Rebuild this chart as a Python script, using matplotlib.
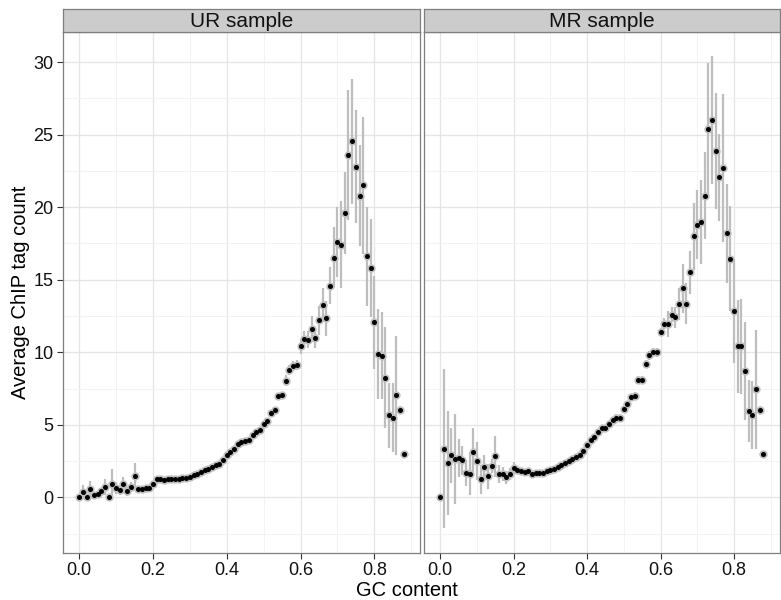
import numpy as np
import matplotlib
matplotlib.use("Agg")
import matplotlib.pyplot as plt
from matplotlib.ticker import MultipleLocator

plt.rcParams['font.family'] = ['Liberation Sans', 'DejaVu Sans']

# ---------------- data ----------------
gc_content = [round(0.01 * i, 2) for i in range(89)]

ur_mean = [0.00, 0.37, 0.02, 0.60, 0.18, 0.25, 0.41, 0.71, 0.00, 0.94,
           0.64, 0.48, 0.90, 0.41, 0.71, 1.45, 0.55, 0.60, 0.67, 0.67,
           0.90, 1.24, 1.24, 1.22, 1.29, 1.24, 1.26, 1.27, 1.31, 1.36,
           1.43, 1.52, 1.63, 1.75, 1.86, 1.98, 2.09, 2.20, 2.32, 2.55,
           2.90, 3.13, 3.36, 3.70, 3.82, 3.85, 3.98, 4.28, 4.50, 4.65,
           5.03, 5.26, 5.80, 6.00, 6.97, 7.03, 8.05, 8.80, 9.06, 9.15,
           10.40, 10.90, 10.87, 11.60, 11.00, 12.20, 13.26, 12.34, 14.60, 16.50,
           17.60, 17.40, 19.60, 23.60, 24.55, 22.80, 20.80, 21.50, 16.60, 15.80,
           12.07, 9.90, 9.75, 8.25, 5.65, 5.50, 7.03, 6.02, 3.01]

ur_err = [0.20, 0.45, 0.20, 0.50, 0.20, 0.20, 0.25, 0.55, 0.20, 1.00,
          0.40, 0.30, 0.50, 0.30, 0.35, 0.90, 0.15, 0.15, 0.15, 0.15,
          0.20, 0.12, 0.12, 0.12, 0.12, 0.12, 0.12, 0.12, 0.12, 0.12,
          0.12, 0.12, 0.12, 0.12, 0.12, 0.12, 0.12, 0.12, 0.12, 0.12,
          0.15, 0.15, 0.15, 0.15, 0.15, 0.15, 0.18, 0.18, 0.20, 0.20,
          0.20, 0.22, 0.25, 0.25, 0.25, 0.25, 0.35, 0.35, 0.35, 0.35,
          0.50, 0.55, 0.60, 0.90, 0.70, 1.00, 1.20, 1.20, 1.30, 2.10,
          2.40, 3.00, 2.80, 4.50, 4.30, 3.90, 3.50, 4.70, 3.40, 3.40,
          3.20, 3.10, 3.00, 3.50, 2.25, 2.35, 4.10, 0.30, 0.00]

mr_mean = [0.00, 3.36, 2.37, 2.90, 2.66, 2.73, 2.55, 1.70, 1.63, 3.13,
           2.50, 1.24, 2.09, 1.45, 2.16, 2.83, 1.61, 1.61, 1.40, 1.61,
           2.02, 1.90, 1.82, 1.75, 1.82, 1.63, 1.70, 1.70, 1.70, 1.79,
           1.88, 1.98, 2.09, 2.20, 2.37, 2.50, 2.66, 2.78, 2.94, 3.17,
           3.59, 3.95, 4.16, 4.50, 4.80, 4.80, 5.03, 5.33, 5.50, 5.50,
           6.10, 6.40, 6.90, 7.00, 8.07, 8.07, 9.20, 9.80, 10.00, 10.00,
           11.40, 11.97, 11.95, 12.60, 12.40, 13.35, 14.40, 13.35, 15.50, 18.00,
           18.80, 18.95, 20.80, 25.40, 26.00, 23.90, 22.05, 22.70, 18.20, 16.46,
           12.85, 10.40, 10.40, 8.70, 5.95, 5.66, 7.45, 6.00, 3.00]

mr_err = [0.00, 5.50, 3.60, 1.90, 3.10, 1.30, 1.00, 0.90, 1.50, 1.65,
          1.30, 1.00, 0.80, 0.85, 0.50, 1.40, 0.65, 0.50, 0.45, 0.40,
          0.40, 0.20, 0.15, 0.15, 0.15, 0.15, 0.15, 0.15, 0.15, 0.15,
          0.15, 0.15, 0.15, 0.15, 0.15, 0.15, 0.15, 0.15, 0.15, 0.15,
          0.15, 0.15, 0.18, 0.18, 0.20, 0.20, 0.20, 0.20, 0.22, 0.22,
          0.22, 0.25, 0.25, 0.25, 0.28, 0.28, 0.30, 0.30, 0.30, 0.30,
          0.30, 0.40, 0.90, 0.50, 0.70, 1.10, 1.70, 1.40, 1.50, 2.30,
          2.40, 2.90, 3.00, 4.50, 4.40, 4.00, 3.00, 5.10, 3.40, 3.60,
          3.60, 3.20, 3.30, 3.40, 2.15, 2.35, 4.10, 0.30, 0.00]

panel_titles = ["UR sample", "MR sample"]
x_ticks = [0.0, 0.2, 0.4, 0.6, 0.8]
y_ticks = [0, 5, 10, 15, 20, 25, 30]

# ---------------- figure ----------------
W, H = 781, 600
fig = plt.figure(figsize=(W / 100, H / 100), dpi=100)

panel_bottom = (H - 552.5) / H
panel_height = (552.5 - 32.3) / H
strip_bottom = (H - 32.3) / H
strip_height = 23.0 / H
lefts = [63 / W, 424 / W]
widths = [357 / W, 355.5 / W]

series = [(ur_mean, ur_err), (mr_mean, mr_err)]
border_col = "#7F7F7F"
bar_col = "#BEBEBE"

for i, (title, (mean, err)) in enumerate(zip(panel_titles, series)):
    ax = fig.add_axes([lefts[i], panel_bottom, widths[i], panel_height])
    x = np.array(gc_content)
    m = np.array(mean)
    e = np.array(err)
    ax.vlines(x, m - e, m + e, colors=bar_col, linewidth=1.6, zorder=3)
    ax.scatter(x, m, s=36, color=bar_col, linewidths=0, zorder=4)
    ax.scatter(x, m, s=13, color="black", linewidths=0, zorder=5)

    ax.set_xlim(-0.044, 0.924)
    ax.set_ylim(-3.8, 32.05)
    ax.set_xticks(x_ticks)
    ax.set_xticklabels([f"{t:.1f}" for t in x_ticks])
    ax.xaxis.set_minor_locator(MultipleLocator(0.1))
    ax.set_yticks(y_ticks)
    ax.yaxis.set_minor_locator(MultipleLocator(2.5))
    ax.grid(which="major", color="#E5E5E5", linewidth=0.9, zorder=0)
    ax.grid(which="minor", color="#F3F3F3", linewidth=0.7, zorder=0)
    ax.set_axisbelow(True)
    for sp in ax.spines.values():
        sp.set_color(border_col)
        sp.set_linewidth(0.9)
    ax.tick_params(which="major", axis="both", color="#333333", length=4,
                   width=0.8, labelsize=13, labelcolor="#111111", pad=3)
    ax.tick_params(which="minor", length=0)
    if i == 1:
        ax.tick_params(axis="y", left=False, labelleft=False)

    sax = fig.add_axes([lefts[i], strip_bottom, widths[i], strip_height])
    sax.set_facecolor("#CCCCCC")
    sax.set_xticks([])
    sax.set_yticks([])
    for sp in sax.spines.values():
        sp.set_color(border_col)
        sp.set_linewidth(0.9)
    sax.text(0.5, 0.45, title, ha="center", va="center", fontsize=15,
             color="#111111", transform=sax.transAxes)

fig.text(407 / W, 1 - 591 / H, "GC content", ha="center", va="center",
         fontsize=14.5, color="black")
fig.text(21 / W, 1 - 292 / H, "Average ChIP tag count", ha="center",
         va="center", rotation=90, fontsize=14.5, color="black")

fig.savefig("out.png", dpi=100)
